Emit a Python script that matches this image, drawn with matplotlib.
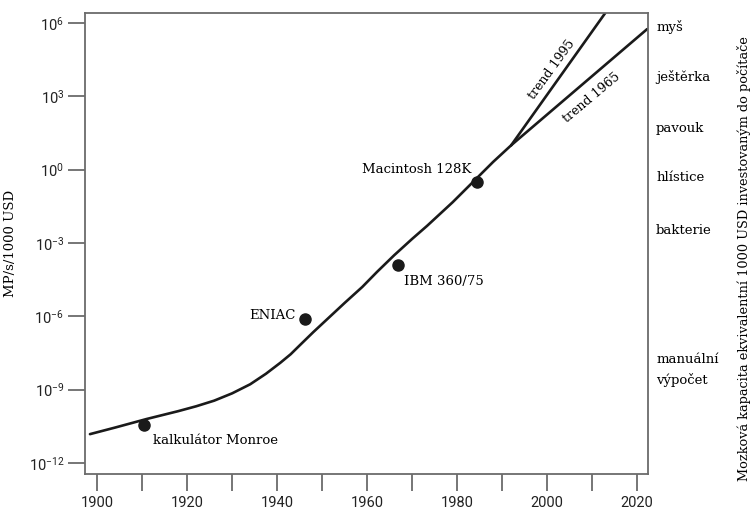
import matplotlib
matplotlib.use("Agg")
import matplotlib.pyplot as plt
import numpy as np

# hlavni krivka (roky, log10 MP/s/1000 USD)
curve_years = [1898.4, 1904, 1911, 1918, 1922, 1926, 1930, 1934, 1937.5, 1940.7,
               1943, 1945.1, 1948, 1951.5, 1955, 1958.9, 1962.2, 1966, 1970, 1973.3,
               1979, 1984.4, 1988, 1992]
curve_logs = [-10.82, -10.55, -10.2, -9.88, -9.68, -9.45, -9.15, -8.78, -8.35, -7.9,
              -7.55, -7.17, -6.65, -6.05, -5.45, -4.8, -4.18, -3.5, -2.83, -2.3,
              -1.33, -0.34, 0.32, 1.0]

# trendy od bodu rozvetveni
trend95_years = [1992, 2012.9]
trend95_logs = [1.0, 6.41]
trend65_years = [1992, 2022.2]
trend65_logs = [1.0, 5.75]

# pocitace
machines = ["kalkulátor Monroe", "ENIAC", "IBM 360/75", "Macintosh 128K"]
machine_years = [1910.4, 1946.2, 1966.9, 1984.5]
machine_logs = [-10.45, -6.11, -3.88, -0.5]

# mozkova kapacita
brains = ["myš", "ještěrka", "pavouk", "hlístice", "bakterie", "manuální\nvýpočet"]
brain_logs = [5.84, 3.79, 1.7, -0.34, -2.47, -8.2]

plt.rcParams['font.family'] = ['Roboto', 'DejaVu Sans']
plt.rcParams['mathtext.default'] = 'regular'
serif = 'DejaVu Serif'
gray = '#6b6b6b'

fig = plt.figure(figsize=(7.53, 5.17), dpi=100)
ax = fig.add_axes([0.1129, 0.0832, 0.7477, 0.8917])

line_kw = dict(color='#1a1a1a', lw=1.9, solid_joinstyle='round', solid_capstyle='round')
ax.plot(curve_years, 10.0 ** np.array(curve_logs), **line_kw)
ax.plot(trend95_years, 10.0 ** np.array(trend95_logs), **line_kw)
ax.plot(trend65_years, 10.0 ** np.array(trend65_logs), **line_kw)
ax.plot(machine_years, 10.0 ** np.array(machine_logs), 'o', color='#1a1a1a', ms=8)

ax.set_yscale('log')
ax.set_xlim(1897.3, 2022.4)
ax.set_ylim(10 ** -12.45, 10 ** 6.41)

ax.set_xticks(range(1900, 2021, 20))
ax.set_xticks(range(1910, 2020, 20), minor=True)
ax.set_yticks([10.0 ** e for e in range(-12, 7, 3)])
ax.set_yticks([], minor=True)
ax.set_yticklabels(['$10^{%d}$' % e for e in range(-12, 7, 3)])
ax.tick_params(axis='both', which='both', color=gray, width=1.3, labelsize=10.5,
               labelcolor='#222222')
ax.tick_params(axis='x', which='both', length=12, pad=4)
ax.tick_params(axis='y', which='both', length=12, pad=3)
for s in ax.spines.values():
    s.set_color(gray)
    s.set_linewidth(1.3)

ax.set_ylabel('MP/s/1000 USD', family=serif, fontsize=9.5, labelpad=8)

# popisky pocitacu
ax.text(1912.3, 10 ** -11.1, machines[0], family=serif, fontsize=9.5, va='center', ha='left')
ax.text(1944.2, 10 ** -5.95, machines[1], family=serif, fontsize=9.5, va='center', ha='right')
ax.text(1968.2, 10 ** -4.56, machines[2], family=serif, fontsize=9.5, va='center', ha='left')
ax.text(1983.2, 10 ** 0.0, machines[3], family=serif, fontsize=9.5, va='center', ha='right')

# popisky trendu
ax.text(2001.0, 10 ** 4.1, 'trend 1995', family=serif, fontsize=9, rotation=54,
        ha='center', va='center', rotation_mode='anchor')
ax.text(2009.8, 10 ** 2.95, 'trend 1965', family=serif, fontsize=9, rotation=40,
        ha='center', va='center', rotation_mode='anchor')

# prava strana
for name, lg in zip(brains, brain_logs):
    ax.text(2024.2, 10 ** lg, name, family=serif, fontsize=9.5, va='center', ha='left',
            clip_on=False, linespacing=1.7)

fig.text(0.988, 0.5, 'Mozková kapacita ekvivalentní 1000 USD investovaným do počítače',
         family=serif, fontsize=9.3, rotation=90, ha='center', va='center')

fig.savefig('out.png', dpi=100)
